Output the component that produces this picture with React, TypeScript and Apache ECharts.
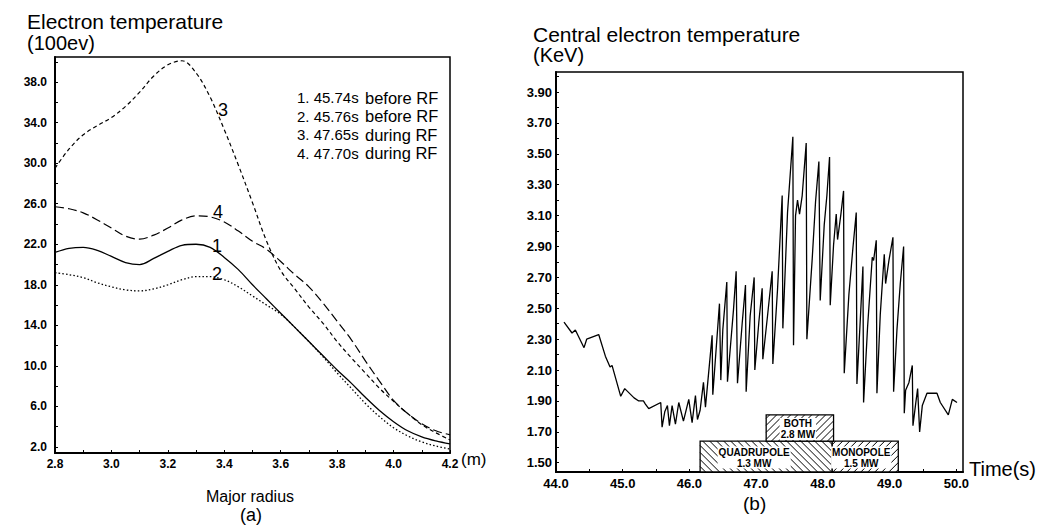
import React, { useEffect, useRef } from 'react';
import * as echarts from 'echarts';

// ---------- Panel (a): electron temperature profiles ----------
const radius = [2.8, 2.85, 2.9, 2.95, 3.0, 3.05, 3.1, 3.15, 3.2, 3.25, 3.3, 3.35, 3.4, 3.45, 3.5, 3.55, 3.6, 3.65, 3.7, 3.75, 3.8, 3.85, 3.9, 3.95, 4.0, 4.05, 4.1, 4.15, 4.2];
const te1 = [21.2, 21.6, 21.7, 21.4, 20.8, 20.2, 20.0, 20.6, 21.3, 21.9, 22.0, 21.7, 20.7, 19.5, 18.0, 16.6, 15.2, 13.8, 12.4, 11.0, 9.6, 8.3, 6.9, 5.6, 4.5, 3.6, 3.0, 2.6, 2.3];
const te2 = [19.2, 19.0, 18.7, 18.2, 17.8, 17.5, 17.4, 17.6, 18.0, 18.5, 18.8, 18.8, 18.5, 17.8, 16.9, 16.0, 15.1, 13.8, 12.4, 10.9, 9.3, 7.8, 6.3, 5.0, 3.9, 3.1, 2.5, 2.1, 1.8];
const te3 = [29.5, 31.4, 32.8, 33.7, 34.5, 35.6, 37.0, 38.6, 39.7, 40.1, 38.9, 36.5, 33.3, 29.8, 26.1, 22.3, 19.4, 17.6, 15.8, 14.2, 12.4, 10.8, 9.3, 7.8, 6.5, 5.3, 4.2, 3.4, 2.7];
const te4 = [25.7, 25.5, 25.1, 24.4, 23.6, 22.8, 22.5, 22.9, 23.6, 24.4, 24.8, 24.7, 24.2, 23.3, 22.3, 21.5, 20.3, 19.0, 17.8, 16.2, 14.4, 12.6, 10.5, 8.5, 6.6, 5.3, 4.3, 3.6, 3.2];
const curveNames = ['1', '2', '3', '4'];
const curveLabelX = [3.374, 3.374, 3.395, 3.378];
const curveLabelY = [21.8, 19.1, 35.2, 25.2];
const legendNum = ['1. 45.74s', '2. 45.76s', '3. 47.65s', '4. 47.70s'];
const legendPhase = ['before RF', 'before RF', 'during RF', 'during RF'];
const radiusLabels = [2.8, 3.0, 3.2, 3.4, 3.6, 3.8, 4.0, 4.2];
const radiusTicks = [2.8, 2.9, 3.0, 3.1, 3.2, 3.3, 3.4, 3.5, 3.6, 3.7, 3.8, 3.9, 4.0, 4.1, 4.2];
const teLabels = [2, 6, 10, 14, 18, 22, 26, 30, 34, 38];
const teTicks = [2, 4, 6, 8, 10, 12, 14, 16, 18, 20, 22, 24, 26, 28, 30, 32, 34, 36, 38, 40];

// ---------- Panel (b): central electron temperature vs time ----------
const times = [
  44.12, 44.24, 44.29, 44.42, 44.46, 44.64, 44.74, 44.81, 44.84, 44.97,
  45.03, 45.17, 45.24, 45.31, 45.34, 45.39, 45.57, 45.59, 45.63, 45.67,
  45.70, 45.74, 45.79, 45.84,
  45.91, 45.99, 46.04, 46.09, 46.12, 46.16, 46.21, 46.24, 46.34, 46.35,
  46.45, 46.47, 46.50, 46.56, 46.57, 46.61, 46.66, 46.70, 46.72, 46.79,
  46.84, 46.85, 46.91, 46.97, 46.98, 47.04, 47.09, 47.10, 47.17, 47.24,
  47.25, 47.32, 47.39, 47.40,
  47.47, 47.55, 47.56, 47.59, 47.62, 47.65, 47.69, 47.75, 47.76, 47.84,
  47.89, 47.94, 47.96, 48.02, 48.06, 48.10, 48.11, 48.16, 48.20, 48.22,
  48.27, 48.31, 48.32, 48.39, 48.45, 48.50, 48.51, 48.56, 48.60, 48.61,
  48.67, 48.74, 48.76, 48.80, 48.81, 48.86, 48.92, 48.94, 48.99, 49.05,
  49.06, 49.11, 49.16, 49.21, 49.22, 49.24, 49.29,
  49.34, 49.35, 49.39, 49.42, 49.45, 49.49, 49.56, 49.71, 49.76, 49.88, 49.94, 50.01,
];
const tCentral = [
  2.41, 2.34, 2.36, 2.245, 2.30, 2.33, 2.19, 2.12, 2.13, 1.93,
  1.98, 1.92, 1.90, 1.90, 1.88, 1.85, 1.89, 1.73, 1.83, 1.87,
  1.74, 1.87, 1.75, 1.89,
  1.77, 1.91, 1.76, 1.935, 1.78, 1.84, 2.02, 1.86, 2.325, 1.94,
  2.53, 2.035, 2.36, 2.67, 2.025, 2.23, 2.49, 2.74, 2.015, 2.40,
  2.65, 1.96, 2.45, 2.70, 2.10, 2.41, 2.63, 2.17, 2.45, 2.74,
  2.14, 2.62, 3.23, 2.37,
  3.12, 3.61, 2.26, 3.10, 3.20, 3.11, 3.23, 3.57, 2.30, 2.82,
  3.19, 3.45, 2.55, 3.04, 3.23, 3.48, 2.52, 2.91, 3.11, 2.945,
  3.11, 3.26, 2.08, 2.59, 2.89, 3.12, 2.01, 2.42, 2.77, 1.89,
  2.38, 2.83, 2.81, 2.94, 1.95, 2.46, 2.85, 2.66, 2.81, 2.96,
  1.96, 2.36, 2.66, 2.90, 1.82, 1.97, 2.02,
  2.13, 1.74, 1.88, 1.98, 1.70, 1.87, 1.95, 1.95, 1.89, 1.81, 1.91, 1.89,
];
const timeLabels = [44, 45, 46, 47, 48, 49, 50];
const timeTicks = [44, 44.5, 45, 45.5, 46, 46.5, 47, 47.5, 48, 48.5, 49, 49.5, 50];
const kevLabels = [1.5, 1.7, 1.9, 2.1, 2.3, 2.5, 2.7, 2.9, 3.1, 3.3, 3.5, 3.7, 3.9];
const kevTicks = [1.5, 1.6, 1.7, 1.8, 1.9, 2.0, 2.1, 2.2, 2.3, 2.4, 2.5, 2.6, 2.7, 2.8, 2.9, 3.0, 3.1, 3.2, 3.3, 3.4, 3.5, 3.6, 3.7, 3.8, 3.9, 4.0];

// RF heating periods (time span and temperature-axis extent of each box)
const boxStart = [46.16, 48.14, 47.15];
const boxEnd = [48.14, 49.13, 48.16];
const boxBottom = [1.44, 1.44, 1.64];
const boxTop = [1.64, 1.64, 1.81];
const boxHatch = [1, -1, -1];
const boxLabels = ['QUADRUPOLE\n1.3 MW', 'MONOPOLE\n1.5 MW', 'BOTH\n2.8 MW'];

const FONT = '"Liberation Sans", Arial, sans-serif';
const LABEL_DX = [-12, -4, -2];

function buildOption() {
  const lineSeries = (vals: number[], type: any, width: number) => ({
    type: 'line',
    xAxisIndex: 0,
    yAxisIndex: 0,
    data: radius.map((r, i) => [r, vals[i]]),
    smooth: 0.35,
    showSymbol: false,
    symbol: 'none',
    lineStyle: { color: '#000', width, type },
    silent: true,
  });

  const axisCommon = {
    axisLine: { show: true, onZero: false, lineStyle: { color: '#000', width: 2 } },
    splitLine: { show: false },
  };

  const texts: any[] = [
    { type: 'text', left: 27, top: 11, style: { text: 'Electron temperature', font: `21px ${FONT}`, fill: '#000' } },
    { type: 'text', left: 27, top: 33, style: { text: '(100ev)', font: `20px ${FONT}`, fill: '#000' } },
    { type: 'text', left: 533, top: 24, style: { text: 'Central electron temperature', font: `21px ${FONT}`, fill: '#000' } },
    { type: 'text', left: 533, top: 45, style: { text: '(KeV)', font: `20px ${FONT}`, fill: '#000' } },
    { type: 'text', left: 461, top: 451, style: { text: '(m)', font: `17px ${FONT}`, fill: '#000' } },
    { type: 'text', left: 206, top: 488, style: { text: 'Major radius', font: `16px ${FONT}`, fill: '#000' } },
    { type: 'text', left: 240, top: 506, style: { text: '(a)', font: `18px ${FONT}`, fill: '#000' } },
    { type: 'text', left: 969, top: 459, style: { text: 'Time(s)', font: `20px ${FONT}`, fill: '#000' } },
    { type: 'text', left: 743, top: 494, style: { text: '(b)', font: `19px ${FONT}`, fill: '#000' } },
  ];
  legendNum.forEach((t, i) => {
    texts.push({ type: 'text', left: 297, top: 90 + i * 18.5, style: { text: t, font: `15px ${FONT}`, fill: '#000' } });
    texts.push({ type: 'text', left: 365, top: 89 + i * 18.5, style: { text: legendPhase[i], font: `16.5px ${FONT}`, fill: '#000' } });
  });

  return {
    animation: false,
    backgroundColor: '#fff',
    grid: [
      { left: 55, top: 57, width: 395, height: 396, show: true, borderColor: '#000', borderWidth: 1.5, backgroundColor: 'transparent' },
      { left: 556, top: 72, width: 407, height: 400, show: true, borderColor: '#000', borderWidth: 1.5, backgroundColor: 'transparent' },
    ],
    xAxis: [
      {
        ...axisCommon,
        type: 'value', gridIndex: 0, min: 2.8, max: 4.2,
        axisTick: { show: true, inside: true, length: 3, customValues: radiusTicks, lineStyle: { color: '#000', width: 1 } },
        axisLabel: { customValues: radiusLabels, formatter: (v: number) => v.toFixed(1), color: '#000', fontSize: 12, fontWeight: 'bold', fontFamily: FONT, margin: 5 },
      },
      {
        ...axisCommon,
        type: 'value', gridIndex: 1, min: 44, max: 50.1,
        axisTick: { show: true, inside: true, length: 3, customValues: timeTicks, lineStyle: { color: '#000', width: 1 } },
        axisLabel: { customValues: timeLabels, formatter: (v: number) => v.toFixed(1), color: '#000', fontSize: 13, fontWeight: 'bold', fontFamily: FONT, margin: 5 },
      },
    ],
    yAxis: [
      {
        ...axisCommon,
        type: 'value', gridIndex: 0, min: 1.41, max: 40.47,
        axisTick: { show: true, inside: true, length: 3, customValues: teTicks, lineStyle: { color: '#000', width: 1 } },
        axisLabel: { customValues: teLabels, formatter: (v: number) => v.toFixed(1), color: '#000', fontSize: 12, fontWeight: 'bold', fontFamily: FONT, margin: 8 },
      },
      {
        ...axisCommon,
        type: 'value', gridIndex: 1, min: 1.44, max: 4.03,
        axisTick: { show: true, inside: true, length: 3, customValues: kevTicks, lineStyle: { color: '#000', width: 1 } },
        axisLabel: { customValues: kevLabels, formatter: (v: number) => v.toFixed(2), color: '#000', fontSize: 13, fontWeight: 'bold', fontFamily: FONT, margin: 4 },
      },
    ],
    series: [
      lineSeries(te1, 'solid', 1.3),
      lineSeries(te2, [1.5, 2.2], 1.3),
      lineSeries(te3, [4, 3], 1.2),
      lineSeries(te4, [9, 4], 1.2),
      {
        type: 'scatter',
        xAxisIndex: 0,
        yAxisIndex: 0,
        data: curveLabelX.map((x, i) => [x, curveLabelY[i]]),
        symbolSize: 0,
        itemStyle: { color: '#000' },
        label: {
          show: true, position: 'inside', color: '#000', fontSize: 18, fontFamily: FONT,
          textBorderWidth: 0, opacity: 1,
          formatter: (p: any) => curveNames[p.dataIndex],
        },
        silent: true,
      },
      {
        type: 'line',
        xAxisIndex: 1,
        yAxisIndex: 1,
        data: times.map((t, i) => [t, tCentral[i]]),
        showSymbol: false,
        symbol: 'none',
        lineStyle: { color: '#000', width: 1.3 },
        silent: true,
      },
      {
        type: 'custom',
        xAxisIndex: 1,
        yAxisIndex: 1,
        silent: true,
        clip: false,
        data: boxStart.map((s, i) => [s, boxEnd[i], boxBottom[i], boxTop[i], boxHatch[i]]),
        encode: { x: [0, 1], y: [2, 3] },
        renderItem: (params: any, api: any) => {
          const i = params.dataIndex;
          const a = api.coord([api.value(0), api.value(3)]);
          const b = api.coord([api.value(1), api.value(2)]);
          const L = a[0], T = a[1], R = b[0], B = b[1];
          const dir = api.value(4);
          const children: any[] = [
            { type: 'rect', shape: { x: L, y: T, width: R - L, height: B - T }, style: { fill: '#fff', stroke: '#000', lineWidth: 1.3 } },
          ];
          const s = 7;
          if (dir > 0) {
            for (let c = T - R + s / 2; c < B - L; c += s) {
              const xa = Math.max(L, T - c), xb = Math.min(R, B - c);
              if (xb > xa) children.push({ type: 'line', shape: { x1: xa, y1: xa + c, x2: xb, y2: xb + c }, style: { stroke: '#000', lineWidth: 1 } });
            }
          } else {
            for (let c = L + T + s / 2; c < R + B; c += s) {
              const xa = Math.max(L, c - B), xb = Math.min(R, c - T);
              if (xb > xa) children.push({ type: 'line', shape: { x1: xa, y1: c - xa, x2: xb, y2: c - xb }, style: { stroke: '#000', lineWidth: 1 } });
            }
          }
          children.push({
            type: 'text',
            style: {
              text: boxLabels[i], x: (L + R) / 2 + LABEL_DX[i], y: (T + B) / 2 + 1,
              align: 'center', verticalAlign: 'middle',
              font: `bold 10px ${FONT}`, fill: '#000', lineHeight: 11,
              backgroundColor: '#fff', padding: [0, 1],
            },
          });
          return { type: 'group', children };
        },
      },
    ],
    graphic: { elements: texts },
  };
}

export default function App() {
  const ref = useRef<HTMLDivElement>(null);
  useEffect(() => {
    if (!ref.current) return;
    const chart = echarts.init(ref.current, undefined, { renderer: 'svg' });
    chart.setOption(buildOption() as any);
    return () => chart.dispose();
  }, []);
  return (
    <div
      ref={ref}
      style={{ position: 'absolute', left: 0, top: 0, width: 1046, height: 526, background: '#fff' }}
    />
  );
}
